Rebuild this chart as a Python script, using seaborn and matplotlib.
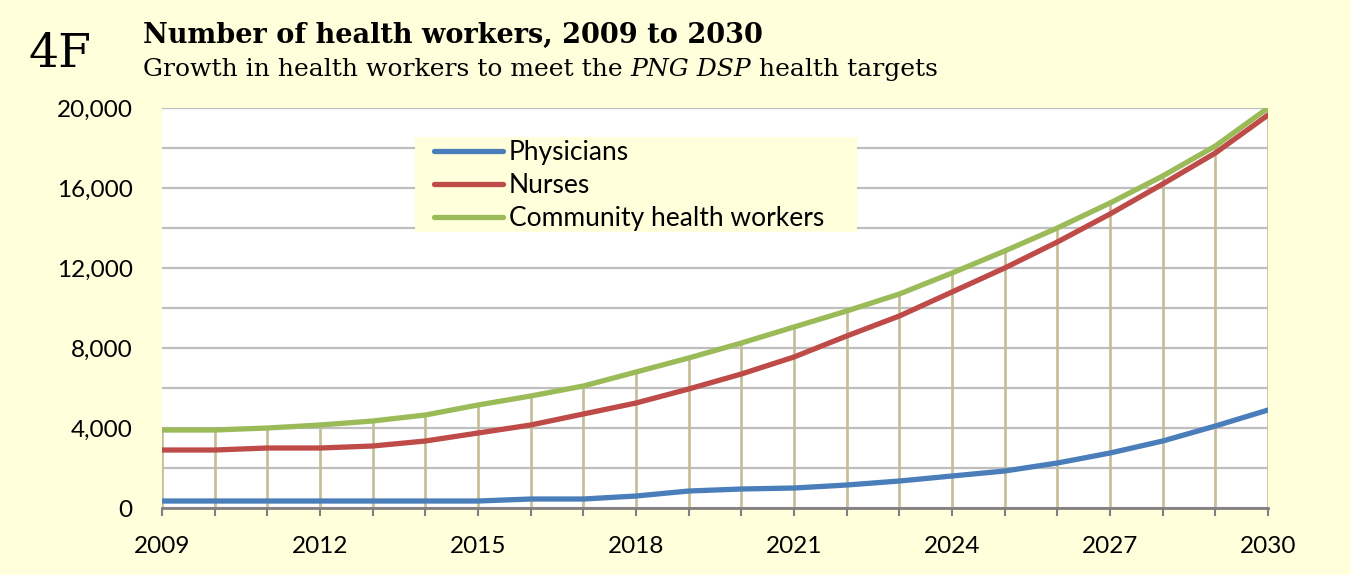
import numpy as np
import pandas as pd
import matplotlib
matplotlib.use("Agg")
import matplotlib.pyplot as plt
from matplotlib.patches import Rectangle
import seaborn as sns

# Data
years = list(range(2009, 2031))
physicians = [350, 350, 350, 350, 350, 350, 350, 450, 450, 600, 850,
              950, 1000, 1150, 1350, 1600, 1850, 2250, 2750, 3350, 4100, 4900]
nurses = [2900, 2900, 3000, 3000, 3100, 3350, 3750, 4150, 4700, 5250, 5950,
          6700, 7550, 8600, 9600, 10800, 12000, 13300, 14700, 16200, 17750, 19650]
community = [3900, 3900, 4000, 4150, 4350, 4650, 5150, 5600, 6100, 6800, 7500,
             8250, 9050, 9850, 10700, 11750, 12850, 14000, 15250, 16600, 18100, 20000]
series_names = ["Physicians", "Nurses", "Community health workers"]
colors = ["#4A7EBB", "#BE4B48", "#9BBB59"]
ytick_vals = [0, 4000, 8000, 12000, 16000, 20000]
xtick_vals = [2009, 2012, 2015, 2018, 2021, 2024, 2027, 2030]

df = pd.DataFrame({
    "year": years * 3,
    "value": physicians + nurses + community,
    "series": [series_names[0]] * len(years) + [series_names[1]] * len(years) + [series_names[2]] * len(years),
})

sns.set_style("white")
plt.rcParams["font.family"] = ["Lato", "DejaVu Sans"]
plt.rcParams["text.color"] = "black"
plt.rcParams["xtick.color"] = "black"
plt.rcParams["ytick.color"] = "black"

bg = "#FFFFDC"
fig = plt.figure(figsize=(13.51, 5.75), dpi=100, facecolor=bg)
ax = fig.add_axes([0.1199, 0.1165, 0.8187, 0.6957])
ax.set_facecolor("white")

# horizontal grid
for g in range(0, 20001, 2000):
    ax.axhline(g, color="#BEBEBE", lw=1.6, zorder=1)

# drop lines from community health workers
ax.vlines(years, 0, community, color="#C4BD97", lw=1.9, zorder=2)

sns.lineplot(data=df, x="year", y="value", hue="series", hue_order=series_names,
             palette=colors, lw=3.8, ax=ax, zorder=3, solid_capstyle="round")

ax.set_xlim(2009, 2030)
ax.set_ylim(0, 20000)
ax.set_xticks(xtick_vals)
ax.set_xticks(years, minor=True)
ax.set_xticklabels([str(v) for v in xtick_vals], fontsize=17.5)
ax.set_yticks(ytick_vals)
ax.set_yticklabels([f"{v:,}" for v in ytick_vals], fontsize=17.5)
ax.tick_params(axis="x", which="both", direction="out", length=6, width=1.5,
               color="#808080", pad=14, bottom=True, labelcolor="black")
ax.tick_params(axis="y", length=0, pad=21, labelcolor="black")
ax.set_xlabel("")
ax.set_ylabel("")
for s in ["top", "right", "left"]:
    ax.spines[s].set_visible(False)
ax.spines["bottom"].set_color("#808080")
ax.spines["bottom"].set_linewidth(2)
ax.spines["bottom"].set_zorder(4)

# legend box background
ax.add_patch(Rectangle((0.2288, 0.69), 0.3996, 0.2375, transform=ax.transAxes,
                       facecolor=bg, edgecolor="none", zorder=2.5))
leg = ax.legend(loc="upper left", bbox_to_anchor=(0.2459, 0.92), frameon=False,
                fontsize=19, handlelength=2.6, handletextpad=0.23, labelspacing=0.31,
                borderpad=0, borderaxespad=0)
for h in leg.get_lines():
    h.set_linewidth(3.8)

# titles
fig.text(28 / 1351, 1 - 67 / 575, "4F", fontsize=34, family="DejaVu Serif",
         va="baseline", ha="left", color="black")
fig.text(143 / 1351, 1 - 43 / 575, "Number of health workers, 2009 to 2030",
         fontsize=19.5, family="DejaVu Serif", fontweight="bold", va="baseline", color="black")
t1 = fig.text(143 / 1351, 1 - 76 / 575, "Growth in health workers to meet the ",
              fontsize=18, family="DejaVu Serif", va="baseline", color="black")
fig.canvas.draw()
r = fig.canvas.get_renderer()
bb = t1.get_window_extent(r)
t2 = fig.text(bb.x1 / fig.bbox.width, 1 - 76 / 575, "PNG DSP",
              fontsize=18, family="DejaVu Serif", style="italic", va="baseline", color="black")
bb2 = t2.get_window_extent(r)
fig.text(bb2.x1 / fig.bbox.width, 1 - 76 / 575, " health targets",
         fontsize=18, family="DejaVu Serif", va="baseline", color="black")

fig.savefig("out.png", dpi=100, facecolor=bg)
